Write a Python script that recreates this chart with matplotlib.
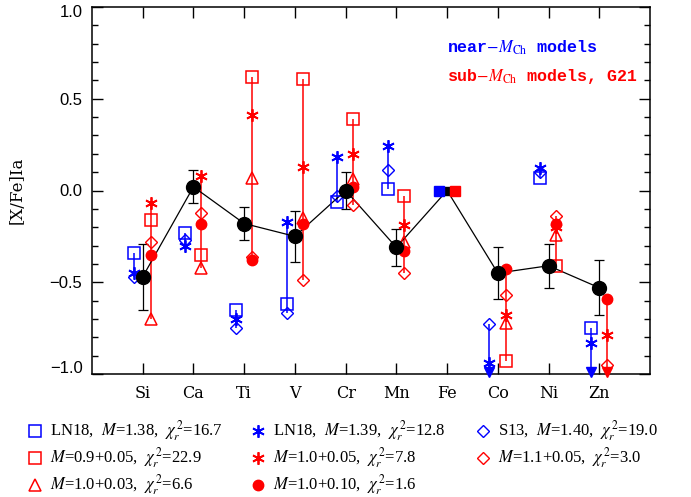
import numpy as np
import matplotlib
matplotlib.use("Agg")
import matplotlib.pyplot as plt
from matplotlib.lines import Line2D

plt.rcParams['mathtext.fontset'] = 'stix'

elements = ['Si', 'Ca', 'Ti', 'V', 'Cr', 'Mn', 'Fe', 'Co', 'Ni', 'Zn']
obs = [-0.47, 0.02, -0.18, -0.25, 0.00, -0.31, 0.00, -0.45, -0.41, -0.53]
obs_err = [0.18, 0.09, 0.09, 0.14, 0.10, 0.10, np.nan, 0.14, 0.12, 0.15]

nan = np.nan
# near-MCh models (blue)
ln18_138 = [-0.34, -0.23, -0.65, -0.62, -0.06, 0.01, 0.0, nan, 0.07, -0.75]
ln18_139 = [-0.45, -0.30, -0.70, -0.17, 0.18, 0.24, 0.0, -0.94, 0.12, -0.83]
s13_140 = [-0.47, -0.27, -0.75, -0.67, -0.03, 0.11, 0.0, -0.73, 0.10, nan]
# sub-MCh models, G21 (red)
sub_090_005 = [-0.16, -0.35, 0.62, 0.61, 0.39, -0.03, 0.0, -0.93, -0.41, nan]
sub_100_005 = [-0.07, 0.08, 0.41, 0.13, 0.20, -0.19, 0.0, -0.68, -0.20, -0.79]
sub_110_005 = [-0.28, -0.12, -0.36, -0.49, -0.08, -0.45, 0.0, -0.57, -0.14, -0.95]
sub_100_003 = [-0.70, -0.42, 0.07, -0.15, 0.06, -0.28, 0.0, -0.72, -0.24, nan]
sub_100_010 = [-0.35, -0.18, -0.38, -0.18, 0.02, -0.33, 0.0, -0.43, -0.18, -0.59]

legend_labels = [
    r'LN18,  $M$=1.38,  $\chi_r^{\,2}$=16.7',
    r'$M$=0.9+0.05,  $\chi_r^{\,2}$=22.9',
    r'$M$=1.0+0.03,  $\chi_r^{\,2}$=6.6',
    r'LN18,  $M$=1.39,  $\chi_r^{\,2}$=12.8',
    r'$M$=1.0+0.05,  $\chi_r^{\,2}$=7.8',
    r'$M$=1.0+0.10,  $\chi_r^{\,2}$=1.6',
    r'S13,  $M$=1.40,  $\chi_r^{\,2}$=19.0',
    r'$M$=1.1+0.05,  $\chi_r^{\,2}$=3.0',
]

ASTER = (6, 2, 0)
blue_models = [
    (ln18_138, dict(marker='s', ms=8, mfc='none', mec='blue', mew=1.1)),
    (ln18_139, dict(marker=ASTER, ms=9, mfc='none', mec='blue', mew=1.3)),
    (s13_140, dict(marker='D', ms=6, mfc='none', mec='blue', mew=1.0)),
]
red_models = [
    (sub_090_005, dict(marker='s', ms=8, mfc='none', mec='red', mew=1.1)),
    (sub_100_005, dict(marker=ASTER, ms=9, mfc='none', mec='red', mew=1.3)),
    (sub_110_005, dict(marker='D', ms=6, mfc='none', mec='red', mew=1.0)),
    (sub_100_003, dict(marker='^', ms=8, mfc='none', mec='red', mew=1.1)),
    (sub_100_010, dict(marker='o', ms=7.5, mfc='red', mec='red', mew=1.0)),
]

W, H = 691, 497
fig = plt.figure(figsize=(W / 100, H / 100), dpi=100)
ax = fig.add_axes([92 / W, 1 - 374 / H, (650 - 92) / W, (374 - 7) / H])

x = np.arange(1, len(elements) + 1)
ife = elements.index('Fe')
YMIN, YMAX = -1.0, 1.0

def draw_group(models, dx, color):
    arr = np.array([m[0] for m in models], dtype=float)
    for i in range(len(elements)):
        if i == ife:
            continue
        col = arr[:, i]
        vis = col[~np.isnan(col)]
        off = np.isnan(col).any()
        top = vis.max()
        bot = YMIN if off else vis.min()
        ax.plot([x[i] + dx, x[i] + dx], [bot, top], color=color, lw=1.1, zorder=2,
                solid_capstyle='butt')
        if off:
            ax.plot([x[i] + dx], [YMIN + 0.012], marker='v', ms=6.5, color=color,
                    clip_on=False, zorder=3)
    for vals, st in models:
        v = np.array(vals, dtype=float)
        mask = np.ones(len(v), bool)
        mask[ife] = False
        ax.plot(x[mask] + dx, v[mask], ls='none', zorder=4, **st)
    # Fe reference points
    ax.plot([x[ife] + dx], [arr[0, ife]], marker='s', ms=7.5, color=color,
            ls='none', zorder=5)

draw_group(blue_models, -0.165, 'blue')
draw_group(red_models, 0.155, 'red')

# observations
ax.plot(x, obs, color='black', lw=0.9, zorder=3)
err = np.array(obs_err, dtype=float)
m = ~np.isnan(err)
ax.errorbar(x[m], np.array(obs)[m], yerr=err[m], fmt='none', ecolor='black',
            elinewidth=0.9, capsize=3.5, capthick=0.9, zorder=3)
mo = np.ones(len(x), bool)
mo[ife] = False
ax.plot(x[mo], np.array(obs)[mo], 'o', color='black', ms=10, zorder=6)
ax.plot([x[ife]], [obs[ife]], 's', color='black', ms=6, zorder=4.5)

ax.set_xlim(0, 11)
ax.set_ylim(YMIN, YMAX)
ax.set_xticks(x)
ax.set_xticklabels(elements, fontfamily='DejaVu Serif', fontsize=11.5)
ax.set_yticks([1.0, 0.5, 0.0, -0.5, -1.0])
ax.set_yticklabels(['', '0.5', '0.0', '\u22120.5', ''], fontfamily='Liberation Sans',
                   fontsize=12)
ax.text(-0.016, 0.985, '1.0', transform=ax.transAxes, ha='right', va='center',
        fontfamily='Liberation Sans', fontsize=12)
ax.text(-0.016, 0.015, '\u22121.0', transform=ax.transAxes, ha='right', va='center',
        fontfamily='Liberation Sans', fontsize=12)
ax.set_yticks(np.arange(-1.0, 1.01, 0.1), minor=True)
ax.tick_params(axis='both', which='major', direction='in', length=8, width=1.0,
               top=True, right=True)
ax.tick_params(axis='y', which='minor', direction='in', length=4.5, width=1.0,
               left=True, right=True)
ax.tick_params(axis='x', which='major', pad=8)
ax.tick_params(axis='y', which='major', pad=7)
for s in ax.spines.values():
    s.set_linewidth(1.1)
ax.set_ylabel('[X/Fe]Ia', fontfamily='DejaVu Serif', fontsize=12, labelpad=17)

def px(xp, yp):
    return xp / W, 1 - yp / H

fig.text(*px(447, 48), r'near$-M_{\rm Ch}$ models', color='blue',
         fontfamily='Liberation Mono', fontsize=12, fontweight='bold', va='center')
fig.text(*px(447, 76), r'sub$-M_{\rm Ch}$ models, G21', color='red',
         fontfamily='Liberation Mono', fontsize=12, fontweight='bold', va='center')

# legend (manual placement)
leg_styles = [blue_models[0][1], red_models[0][1], red_models[3][1],
              blue_models[1][1], red_models[1][1], red_models[4][1],
              blue_models[2][1], red_models[2][1]]
col_x = [35, 258, 483]
row_y = [431, 458, 485]
k = 0
for c, nrows in enumerate([3, 3, 2]):
    for r in range(nrows):
        xm, ym = px(col_x[c], row_y[r])
        st = dict(leg_styles[k])
        fig.add_artist(Line2D([xm], [ym], transform=fig.transFigure, ls='none', **st))
        xt, yt = px(col_x[c] + 15, row_y[r])
        fig.text(xt, yt, legend_labels[k], fontfamily='Liberation Serif', fontsize=12,
                 va='center', ha='left')
        k += 1

fig.savefig('out.png', dpi=100)
